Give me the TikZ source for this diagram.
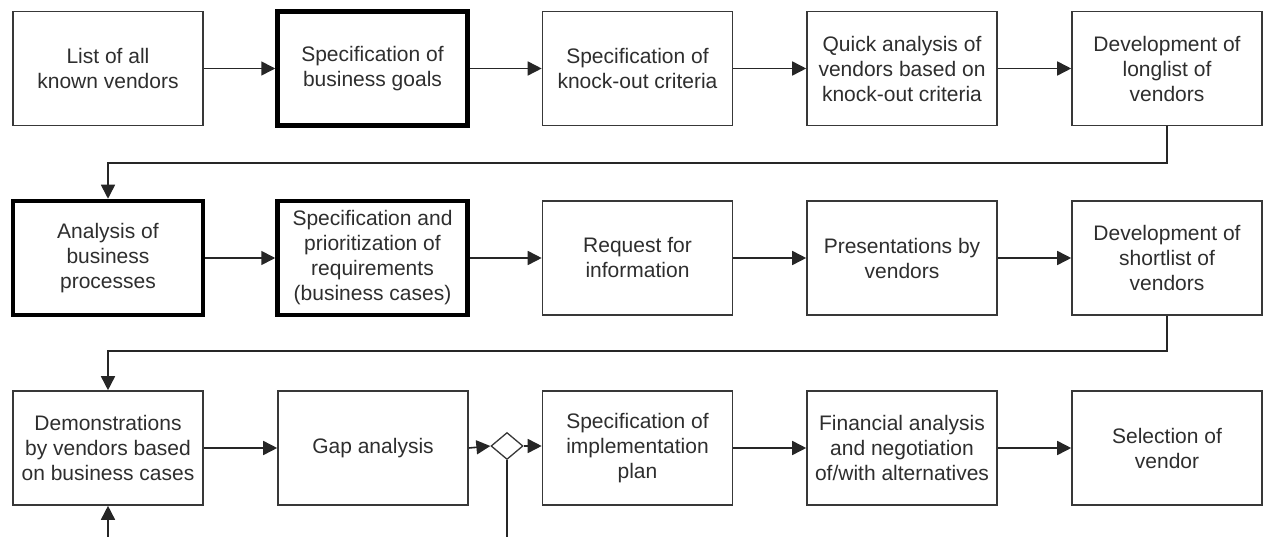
\documentclass[tikz,border=0pt]{standalone}
\usepackage{fontspec}
\setmainfont{Liberation Sans}
\usetikzlibrary{arrows.meta,shapes.geometric}
\begin{document}
\begin{tikzpicture}[x=1pt,y=-1pt,
  stepbox/.style={draw=black!78, line width=1.6pt, fill=white,
    minimum width=190pt, minimum height=114pt, inner sep=2pt,
    align=center, text=black!82, font=\fontsize{21}{25}\selectfont},
  keybox/.style={stepbox, draw=black, line width=4.5pt},
  flow/.style={draw=black!85, line width=1.6pt, -{Triangle[length=14pt,width=14pt]}},
  plainline/.style={draw=black!85, line width=1.6pt},
  gate/.style={diamond, draw=black!78, fill=white, line width=1.3pt,
    minimum width=32pt, minimum height=27pt, inner sep=0pt}
]
\useasboundingbox (0,0) rectangle (1263,537);

% first row
\node[stepbox] (r1a) at (108,68.5)   {List of all\\known vendors};
\node[keybox]  (r1b) at (372.5,68.5) {Specification of\\business goals};
\node[stepbox] (r1c) at (637.5,68.5) {Specification of\\knock-out criteria};
\node[stepbox] (r1d) at (902,68.5)   {Quick analysis of\\vendors based on\\knock-out criteria};
\node[stepbox] (r1e) at (1167,68.5)  {Development of\\longlist of\\vendors};

% second row
\node[keybox]  (r2a) at (108,258)    {Analysis of\\business\\processes};
\node[keybox]  (r2b) at (372.5,258)  {Specification and\\prioritization of\\requirements\\(business cases)};
\node[stepbox] (r2c) at (637.5,258)  {Request for\\information};
\node[stepbox] (r2d) at (902,258)    {Presentations by\\vendors};
\node[stepbox] (r2e) at (1167,258)   {Development of\\shortlist of\\vendors};

% third row
\node[stepbox] (r3a) at (108,448)    {Demonstrations\\by vendors based\\on business cases};
\node[stepbox] (r3b) at (373,448)    {Gap analysis};
\node[gate]    (g)   at (507,446)    {};
\node[stepbox] (r3c) at (637.5,448)  {Specification of\\implementation\\plan};
\node[stepbox] (r3d) at (902,448)    {Financial analysis\\and negotiation\\of/with alternatives};
\node[stepbox] (r3e) at (1167,448)   {Selection of\\vendor};

% loose ends leaving the page at the bottom
\coordinate (feedin) at (108,537);
\coordinate (branch) at (507,537);

% flows along each row
\draw[flow] (r1a) -- (r1b);
\draw[flow] (r1b) -- (r1c);
\draw[flow] (r1c) -- (r1d);
\draw[flow] (r1d) -- (r1e);

\draw[flow] (r2a) -- (r2b);
\draw[flow] (r2b) -- (r2c);
\draw[flow] (r2c) -- (r2d);
\draw[flow] (r2d) -- (r2e);

\draw[flow] (r3a) -- (r3b);
\draw[flow] (r3b.east) -- (g.west);
\draw[flow] (g.east) -- (r3c.west |- g.east);
\draw[flow] (r3c) -- (r3d);
\draw[flow] (r3d) -- (r3e);

% row wrap-arounds
\draw[flow] (r1e.south) -- ++(0,36.5) -| (r2a.north);
\draw[flow] (r2e.south) -- ++(0,35) -| (r3a.north);

% connections at the bottom edge
\draw[flow] (feedin) -- (r3a.south);
\draw[plainline] (g.south) -- (branch);
\end{tikzpicture}
\end{document}
